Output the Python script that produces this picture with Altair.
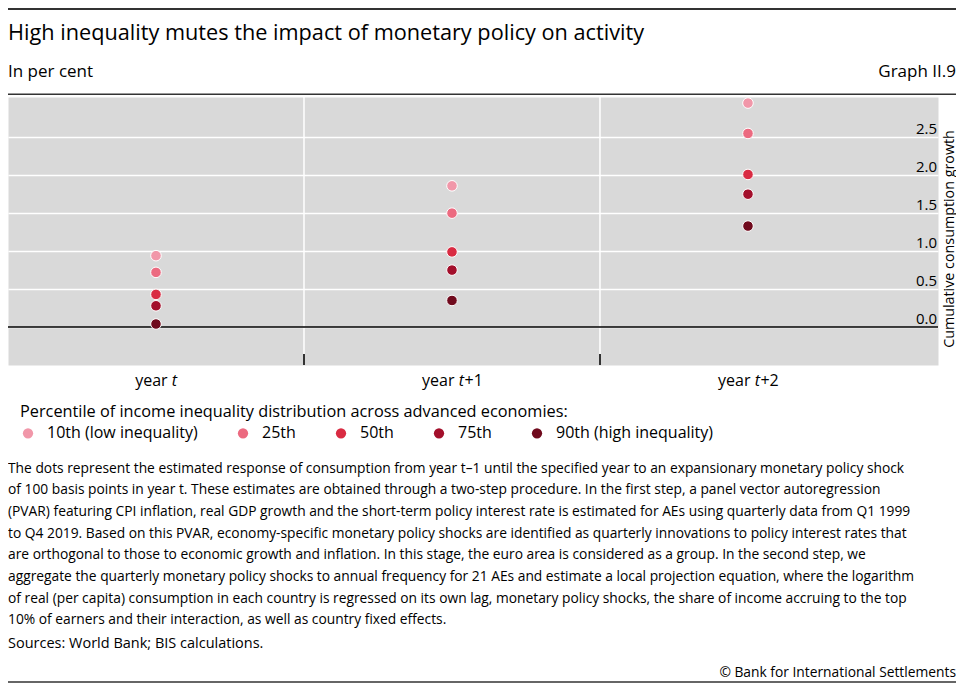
import altair as alt
import pandas as pd

# ---------------- data ----------------
categories = ["year t", "year t+1", "year t+2"]
cat_suffix = ["", "+1", "+2"]
percentiles = ["10th (low inequality)", "25th", "50th", "75th", "90th (high inequality)"]
p10 = [0.94, 1.86, 2.95]
p25 = [0.72, 1.50, 2.55]
p50 = [0.43, 0.99, 2.01]
p75 = [0.28, 0.75, 1.75]
p90 = [0.04, 0.35, 1.33]
colors = ["#F197A9", "#EC6A80", "#D92B42", "#A30F2B", "#700A1D"]
y_ticks = [0.0, 0.5, 1.0, 1.5, 2.0, 2.5]

title_text = "High inequality mutes the impact of monetary policy on activity"
subtitle_text = "In per cent"
graph_id = "Graph II.9"
y_title = "Cumulative consumption growth"
legend_title = "Percentile of income inequality distribution across advanced economies:"
footnote_lines = [
    "The dots represent the estimated response of consumption from year t\u20131 until the specified year to an expansionary monetary policy shock",
    "of 100 basis points in year t. These estimates are obtained through a two-step procedure. In the first step, a panel vector autoregression",
    "(PVAR) featuring CPI inflation, real GDP growth and the short-term policy interest rate is estimated for AEs using quarterly data from Q1 1999",
    "to Q4 2019. Based on this PVAR, economy-specific monetary policy shocks are identified as quarterly innovations to policy interest rates that",
    "are orthogonal to those to economic growth and inflation. In this stage, the euro area is considered as a group. In the second step, we",
    "aggregate the quarterly monetary policy shocks to annual frequency for 21 AEs and estimate a local projection equation, where the logarithm",
    "of real (per capita) consumption in each country is regressed on its own lag, monetary policy shocks, the share of income accruing to the top",
    "10% of earners and their interaction, as well as country fixed effects.",
]
sources_text = "Sources: World Bank; BIS calculations."
copyright_text = "\u00a9 Bank for International Settlements"

# ---------------- tables ----------------
rows = []
for pct, vals in zip(percentiles, [p10, p25, p50, p75, p90]):
    for c, v in zip(categories, vals):
        rows.append({"year": c, "pct": pct, "value": v})
df = pd.DataFrame(rows)
cat_df = pd.DataFrame({"year": categories, "suffix": cat_suffix})
zero_df = pd.DataFrame({"v": [0.0]})

W, H = 930, 268
FULL_W = 948
PAD_TOP = 89
FONT = "Open Sans"

x_scale = alt.Scale(domain=categories, paddingInner=0, paddingOuter=0.071, align=0)
y_scale = alt.Scale(domain=[-0.5, 3.03], nice=False, zero=False)


def X(**kw):
    return alt.X("year:N", scale=x_scale, axis=None, **kw)


points = alt.Chart(df).mark_circle(size=112, opacity=1, stroke="white", strokeWidth=1).encode(
    x=X(),
    y=alt.Y("value:Q", scale=y_scale, axis=alt.Axis(
        orient="right", values=y_ticks, format=".1f", grid=True, gridColor="white",
        gridWidth=1.5, domain=False, ticks=False, tickSize=0, labelAlign="right",
        labelPadding=-1.5, labelOffset=-4, labelBaseline="alphabetic", labelFontSize=15,
        labelColor="#000", labelFont=FONT, title=None)),
    color=alt.Color("pct:N", scale=alt.Scale(domain=percentiles, range=colors), legend=alt.Legend(
        orient="none", legendX=12, legendY=307, direction="horizontal", columns=5,
        title=legend_title, titleFontSize=16.3, titleFontWeight="normal", titleColor="#000",
        titleFont=FONT, titlePadding=5, titleLimit=900, labelFontSize=16, labelColor="#000",
        labelFont=FONT, labelLimit=400, symbolType="circle", symbolSize=105,
        symbolStrokeWidth=0, labelOffset=11, columnPadding=37, padding=0)),
)

vgrid = alt.Chart(cat_df).transform_filter("datum.suffix != ''").mark_rule(
    color="white", strokeWidth=1.5).encode(x=X(bandPosition=0))

vticks = alt.Chart(cat_df).transform_filter("datum.suffix != ''").mark_rule(
    color="#333", strokeWidth=2).encode(
    x=X(bandPosition=0), y=alt.value(H - 11), y2=alt.value(H))

zero_line = alt.Chart(zero_df).mark_rule(color="#000", strokeWidth=1.5).encode(
    y=alt.Y("v:Q", scale=y_scale))

# category labels: "year" + italic "t" + suffix
lab_y = 289
LAB_FS = 16


def cat_labels(flt, base):
    a = alt.Chart(cat_df).transform_filter(flt).mark_text(
        align="right", baseline="alphabetic", fontSize=LAB_FS, font=FONT, color="#000", dx=base).encode(
        x=X(), y=alt.value(lab_y), text=alt.value("year"))
    b = alt.Chart(cat_df).transform_filter(flt).mark_text(
        align="left", baseline="alphabetic", fontSize=LAB_FS, font=FONT, fontStyle="italic",
        color="#000", dx=base + 4.2).encode(x=X(), y=alt.value(lab_y), text=alt.value("t"))
    c = alt.Chart(cat_df).transform_filter(flt).mark_text(
        align="left", baseline="alphabetic", fontSize=LAB_FS, font=FONT, color="#000",
        dx=base + 10).encode(x=X(), y=alt.value(lab_y), text="suffix:N")
    return [a, b, c]


labels = cat_labels("datum.suffix == ''", 11.6) + cat_labels("datum.suffix != ''", 2.5)


def txt(s, x, y, size, align="left", angle=0, baseline="alphabetic", **kw):
    return alt.Chart(pd.DataFrame({"t": [s]})).mark_text(
        align=align, baseline=baseline, fontSize=size, font=FONT, color="#000",
        angle=angle, **kw).encode(x=alt.value(x), y=alt.value(y), text="t:N")


def hline(y, w):
    return alt.Chart(pd.DataFrame({"a": [0]})).mark_rule(color="#333", strokeWidth=w).encode(
        x=alt.value(0), x2=alt.value(FULL_W), y=alt.value(y))


texts = [
    txt(title_text, 0, -57, 21.7),
    txt(subtitle_text, 0, -20.5, 17),
    txt(graph_id, FULL_W, -20.5, 17, align="right"),
    txt(y_title, 941.5, H / 2 + 8, 14.3, align="center", angle=270, baseline="middle"),
    txt("\n".join(footnote_lines), 0, 375.5, 13.8, lineBreak="\n", lineHeight=21.7),
    txt(sources_text, 0, 551, 14.5),
    txt(copyright_text, FULL_W, 580, 13.8, align="right"),
]

lines = [hline(-88, 2), hline(-2.7, 1.5), hline(585, 1.5)]

chart = alt.layer(vgrid, zero_line, vticks, points, *labels, *texts, *lines).properties(
    width=W, height=H,
    autosize=alt.AutoSizeParams(type="none"),
    padding={"left": 0, "top": PAD_TOP, "right": FULL_W - W, "bottom": 586 - H},
).configure(font=FONT).configure_view(fill="#D9D9D9", stroke="transparent")

chart.save("out.html", embed_options={"renderer": "svg", "actions": False})
